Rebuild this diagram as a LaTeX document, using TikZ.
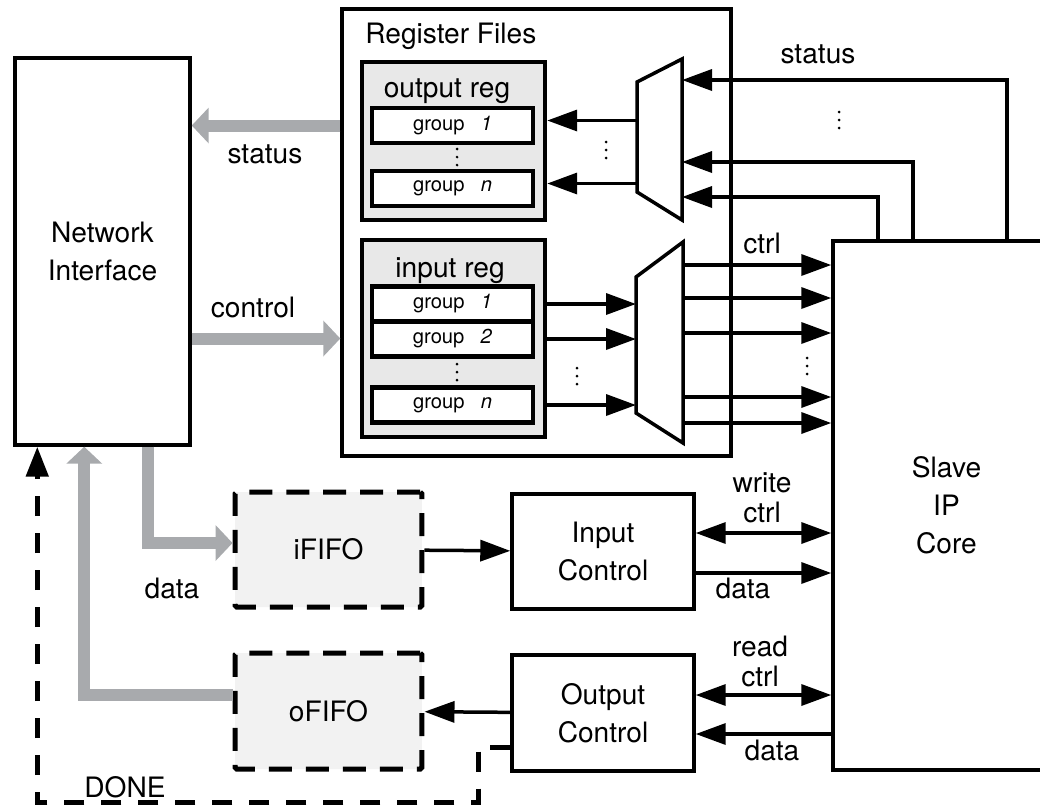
\documentclass[tikz,border=0pt]{standalone}
\usepackage{fontspec}
\setmainfont{TeX Gyre Heros}
\usepackage{tikz}
\usetikzlibrary{arrows.meta,calc,positioning}
\definecolor{busgray}{RGB}{168,170,173}
\newcommand{\blockfont}{\fontsize{16}{21.5}\selectfont}
\newcommand{\grpfont}{\fontsize{11.5}{13}\selectfont}
\newcommand{\lblfont}{\fontsize{16}{17}\selectfont}
\tikzstyle{block}=[draw,line width=.07cm,inner sep=0pt,align=center,font=\blockfont]
\tikzstyle{reg}=[draw,line width=.09cm,inner sep=0pt,fill=black!9]
\tikzstyle{group}=[draw,line width=.09cm,inner sep=0pt,fill=white,minimum width=3.22cm,minimum height=.7cm,font=\grpfont]
\tikzstyle{fifo}=[draw,line width=.1cm,dash pattern=on .46cm off .28cm,rounded corners=1pt,fill=black!5,inner sep=0pt,font=\blockfont]
\tikzstyle{mux}=[draw,line width=.07cm,fill=white]
\tikzstyle{lbl}=[inner sep=0pt,align=center,font=\lblfont]
\tikzstyle{arr}=[line width=.07cm,-{Triangle[length=.6cm,width=.42cm]}]
\tikzstyle{biarr}=[line width=.07cm,{Triangle[length=.6cm,width=.42cm]}-{Triangle[length=.6cm,width=.42cm]}]
\tikzstyle{bus}=[line width=.24cm,draw=busgray,-{Triangle[length=.34cm,width=.7cm]}]
\tikzstyle{done}=[line width=.1cm,dash pattern=on .4cm off .34cm,-{Triangle[length=.6cm,width=.44cm]}]

\begin{document}
\begin{tikzpicture}[x=.02cm,y=-.02cm]
    \path[use as bounding box,clip] (0,0) rectangle (1040,809);

    \node[block,minimum width=3.5cm,minimum height=7.74cm] (net) at (102.5,251.5) {Network\\Interface};
    \node[block,minimum width=7.78cm,minimum height=8.94cm] (regfiles) at (536.5,232.5) {};
    \node[lbl,anchor=base west] (regtitle) at (365,43) {Register Files};

    \node[reg,minimum width=3.66cm,minimum height=3.16cm] (oreg) at (453.5,141) {};
    \node[lbl,anchor=base] (oregtitle) at (447,97) {output reg};
    \node[group] (og1) at (452.5,125.5) {group\hspace{.8em}\textit{1}};
    \node[group] (ogn) at (452.5,188.5) {group\hspace{.8em}\textit{n}};

    \node[reg,minimum width=3.66cm,minimum height=3.94cm] (ireg) at (453.5,338.5) {};
    \node[lbl,anchor=base] (iregtitle) at (450,277) {input reg};
    \node[group] (ig1) at (452.5,304) {group\hspace{.8em}\textit{1}};
    \node[group] (ig2) at (452.5,339) {group\hspace{.8em}\textit{2}};
    \node[group] (ign) at (452.5,405) {group\hspace{.8em}\textit{n}};

    \draw[mux] (637,82) -- (682,59) -- (682,220) -- (637,192) -- cycle;
    \coordinate (omuxL) at (637,137);
    \coordinate (omuxR) at (682,137);
    \draw[mux] (636,277) -- (683,242) -- (683,443) -- (636,413) -- cycle;
    \coordinate (imuxL) at (636,345);
    \coordinate (imuxR) at (683,342);

    \node[block,minimum width=4.54cm,minimum height=10.58cm] (slave) at (946.5,505.5) {Slave\\IP\\Core};

    \node[fifo,minimum width=3.74cm,minimum height=2.3cm] (ififo) at (328.5,549.5) {iFIFO};
    \node[fifo,minimum width=3.74cm,minimum height=2.32cm] (ofifo) at (328.5,711) {oFIFO};
    \node[block,minimum width=3.64cm,minimum height=2.3cm] (inctrl) at (603,551.5) {Input\\Control};
    \node[block,minimum width=3.64cm,minimum height=2.32cm] (outctrl) at (603,713) {Output\\Control};
    \coordinate (donecorner) at (478,802);

    \node[lbl,anchor=base] (statuslbl) at (265,163) {status};
    \node[lbl,anchor=base] (controllbl) at (253,317) {control};
    \node[lbl,anchor=base] (statustop) at (818,63) {status};
    \node[lbl,anchor=base] (ctrllbl) at (762,253) {ctrl};
    \node[lbl,anchor=south] (wctrllbl) at (762,523) {write\\ctrl};
    \node[lbl,anchor=base] (idatalbl) at (743,598) {data};
    \node[lbl,anchor=south] (rctrllbl) at (760,687) {read\\ctrl};
    \node[lbl,anchor=base] (odatalbl) at (772,760) {data};
    \node[lbl,anchor=base] (busdatalbl) at (172,598) {data};
    \node[lbl,anchor=base] (donelbl) at (125,797) {DONE};

    \coordinate (ogdots) at (457,157);
    \coordinate (igdots) at (457,372);
    \coordinate (statusdots) at (839,120);
    \coordinate (omuxdots) at (606,150);
    \coordinate (imuxdots) at (577,376);
    \coordinate (ctrldots) at (807,366);
    \foreach \c in {ogdots,igdots,statusdots,omuxdots,imuxdots,ctrldots}
        \foreach \d in {-8,0,8}
            \fill ($(\c)+(0,\d)$) circle (.03cm);

    \draw[bus] (og1 -| regfiles.west) -- (og1 -| net.east);
    \draw[bus] (ireg -| net.east) -- (ireg -| regfiles.west);
    \draw[bus] ([xshift=2.7cm]net.south west) |- ([yshift=.13cm]ififo.west);
    \draw[bus] ([yshift=.32cm]ofifo.west) -| ([xshift=1.42cm]net.south west);

    \draw[arr] ([yshift=.1cm]og1 -| omuxL) -- ([yshift=.1cm]og1 -| oreg.east);
    \draw[arr] ([yshift=.1cm]ogn -| omuxL) -- ([yshift=.1cm]ogn -| oreg.east);
    \draw[arr] (ig1 -| ireg.east) -- (ig1 -| imuxL);
    \draw[arr] (ig2 -| ireg.east) -- (ig2 -| imuxL);
    \draw[arr] (ign -| ireg.east) -- (ign -| imuxL);
    \foreach \x/\y in {878/197,913/162,1007/80}
        \draw[arr] (slave.north -| \x,0) |- (omuxR |- 0,\y);
    \foreach \y in {265,298,333,397,423}
        \draw[arr] (imuxR |- 0,\y) -- (slave.west |- 0,\y);

    \draw[arr] (ififo) -- (inctrl);
    \draw[arr] (outctrl) -- (ofifo);
    \draw[biarr] ([yshift=.37cm]inctrl.east) -- ([yshift=.37cm]inctrl.east -| slave.west);
    \draw[arr] ([yshift=-.43cm]inctrl.east) -- ([yshift=-.43cm]inctrl.east -| slave.west);
    \draw[biarr] ([yshift=.36cm]outctrl.east) -- ([yshift=.36cm]outctrl.east -| slave.west);
    \draw[arr] ([yshift=-.42cm]outctrl.east -| slave.west) -- ([yshift=-.42cm]outctrl.east);
    \draw[done] ([yshift=-.68cm]outctrl.west) -| (donecorner) -| ([xshift=.48cm]net.south west);
\end{tikzpicture}
\end{document}
